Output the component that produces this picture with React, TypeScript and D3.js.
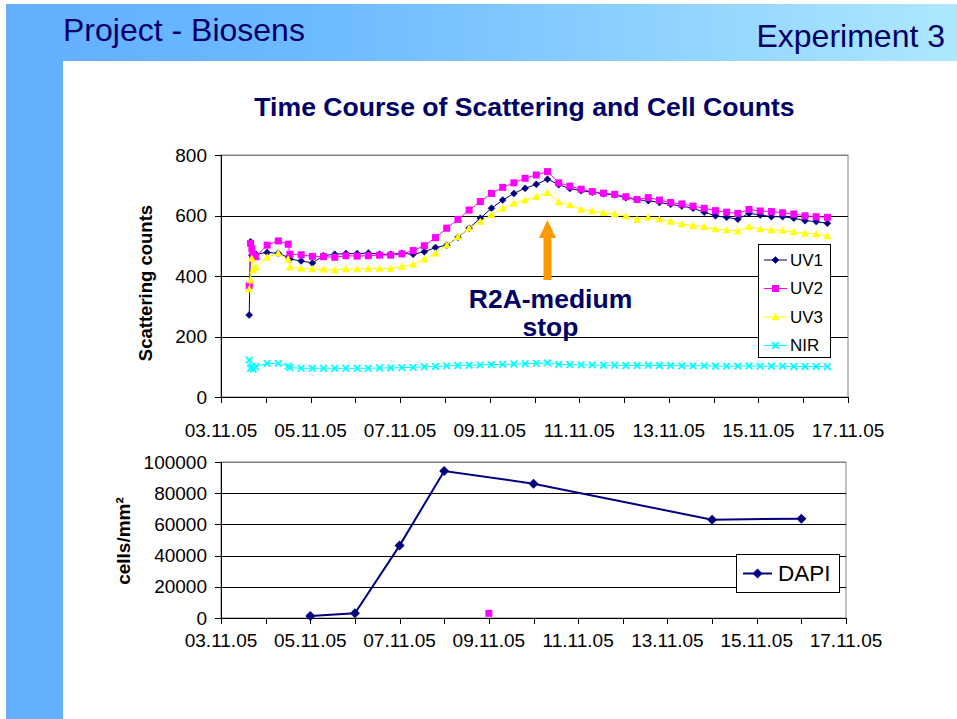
import React from 'react';
import * as d3 from 'd3';

// ---------- DATA ----------
// time in days after 03.11.05 00:00
const times = [0.63, 0.66, 0.69, 0.72, 0.78, 1.03, 1.28, 1.50, 1.54, 1.79, 2.04, 2.29, 2.54, 2.79, 3.04, 3.29, 3.54, 3.79, 4.04, 4.29, 4.54, 4.79, 5.04, 5.29, 5.54, 5.79, 6.04, 6.29, 6.54, 6.79, 7.04, 7.29, 7.54, 7.79, 8.04, 8.29, 8.54, 8.79, 9.04, 9.29, 9.54, 9.79, 10.04, 10.29, 10.54, 10.79, 11.04, 11.29, 11.54, 11.79, 12.04, 12.29, 12.54, 12.79, 13.04, 13.29, 13.54];

const uv1 = [271, 513, 469, 470, 472, 478, 475, 462,
  456, 450, 443, 467, 472, 474, 474, 476, 472, 472, 475, 472, 480, 494, 502, 528, 558, 591, 624, 651, 673, 690, 703, 720, 702, 689, 682, 677, 672, 668, 659, 652, 649, 643, 637, 631, 624, 611, 599, 594, 588, 607, 602, 596, 596, 591, 583, 580, 574];

const uv2 = [368, 508, 490, 469, 464, 502, 516, 505,
  472, 470, 465, 464, 462, 467, 466, 467, 469, 469, 473, 484, 500, 527, 558, 587, 618, 646, 673, 693, 708, 723, 734, 745, 708, 697, 687, 679, 674, 670, 662, 653, 659, 651, 643, 638, 631, 624, 616, 611, 607, 620, 615, 613, 609, 605, 599, 596, 594];

const uv3 = [357, 387, 458, 420, 428, 462, 475, 455,
  429, 425, 423, 422, 420, 423, 423, 425, 425, 425, 431, 439, 455, 475, 502, 530, 558, 580, 602, 624, 640, 651, 662, 675, 644, 635, 620, 615, 609, 605, 598, 587, 594, 588, 580, 572, 566, 563, 555, 552, 549, 563, 555, 552, 550, 546, 541, 539, 532];

const nir = [122, 95, 100, 92, 100, 111, 111, 102,
  97, 95, 95, 95, 95, 95, 95, 95, 96, 96, 97, 98, 100, 101, 103, 104, 105, 106, 107, 108, 109, 110, 111, 113, 108, 107, 106, 106, 105, 105, 104, 104, 105, 104, 104, 103, 103, 103, 102, 102, 102, 103, 102, 102, 102, 101, 101, 101, 100];

const dapiDays = [2, 3, 4, 5, 7, 11, 13];
const dapiValues = [1300, 3000, 46400, 94200, 86100, 63000, 63700];
const extraDays = [6];
const extraValues = [3000];

const dayTicks = [0, 1, 2, 3, 4, 5, 6, 7, 8, 9, 10, 11, 12, 13, 14];
const dateLabels = ['03.11.05', '05.11.05', '07.11.05', '09.11.05', '11.11.05', '13.11.05', '15.11.05', '17.11.05'];
const scatterTicks = [0, 200, 400, 600, 800];
const cellTicks = [0, 20000, 40000, 60000, 80000, 100000];

const seriesNames = ['UV1', 'UV2', 'UV3', 'NIR'];
const seriesColors = ['#000080', '#FF00FF', '#FFFF00', '#00FFFF'];
const seriesValues = [uv1, uv2, uv3, nir];

const stopDay = 7.29;
const arrowTop = 585;
const arrowHeadBase = 526;
const arrowBottom = 387;

// ---------- LAYOUT ----------
const W = 957, H = 719;
const FONT = '"Liberation Sans", Arial, sans-serif';
const NAVY = '#000066';

const xTop = d3.scaleLinear().domain([0, 14]).range([221, 848]);
const yTop = d3.scaleLinear().domain([0, 800]).range([397, 155]);
const xBot = d3.scaleLinear().domain([0, 14]).range([221, 846]);
const yBot = d3.scaleLinear().domain([0, 100000]).range([618, 462]);

function Marker({ kind, x, y, color }: { kind: number; x: number; y: number; color: string }) {
  if (kind === 0) {
    const r = 3.5;
    return <path d={`M${x},${y - r}L${x + r},${y}L${x},${y + r}L${x - r},${y}Z`} fill={color} stroke={color} strokeWidth={0.5} />;
  }
  if (kind === 1) {
    const s = 3.5;
    return <rect x={x - s} y={y - s} width={2 * s} height={2 * s} fill={color} />;
  }
  if (kind === 2) {
    const s = 4;
    return <path d={`M${x},${y - s}L${x + s},${y + s * 0.8}L${x - s},${y + s * 0.8}Z`} fill={color} />;
  }
  const s = 3.3;
  return <path d={`M${x - s},${y - s}L${x + s},${y + s}M${x + s},${y - s}L${x - s},${y + s}`} stroke={color} strokeWidth={1.8} />;
}

export default function App() {
  const topPlot = { l: xTop.range()[0], r: xTop.range()[1], t: yTop.range()[1], b: yTop.range()[0] };
  const botPlot = { l: xBot.range()[0], r: xBot.range()[1], t: yBot.range()[1], b: yBot.range()[0] };

  const line = d3.line<number>().x((_, i) => xTop(times[i])).y((d) => yTop(d));
  const dapiLine = d3.line<number>().x((_, i) => xBot(dapiDays[i])).y((d) => yBot(d));

  const ax = xTop(stopDay);
  const aTop = yTop(arrowTop), aHead = yTop(arrowHeadBase), aBot = yTop(arrowBottom);

  const legX = 758, legY = 244, legW = 72, legH = 113;

  return (
    <svg width={W} height={H} style={{ position: 'fixed', left: 0, top: 0, background: '#fff' }} fontFamily={FONT}>
      <defs>
        <linearGradient id="band" x1="0" x2="1" y1="0" y2="0">
          <stop offset="0" stopColor="#62AEFF" />
          <stop offset="0.35" stopColor="#6EBBFF" />
          <stop offset="1" stopColor="#AEE8FF" />
        </linearGradient>
      </defs>
      <rect x={0} y={0} width={W} height={H} fill="#fff" />
      <rect x={6} y={4} width={W - 6} height={57} fill="url(#band)" />
      <rect x={6} y={4} width={57} height={H - 4} fill="#64B0FF" />
      <text x={63} y={41} fontSize={32} fill={NAVY}>Project - Biosens</text>
      <text x={945} y={47} fontSize={32} fill={NAVY} textAnchor="end">Experiment 3</text>

      <text x={524.5} y={116} fontSize={26.6} fontWeight="bold" fill={NAVY} textAnchor="middle">Time Course of Scattering and Cell Counts</text>

      {/* ---------- TOP CHART ---------- */}
      <rect x={topPlot.l} y={topPlot.t} width={topPlot.r - topPlot.l} height={topPlot.b - topPlot.t} fill="#fff" stroke="#808080" strokeWidth={1} />
      {scatterTicks.filter((t) => t > 0).map((t) => (
        <line key={t} x1={topPlot.l} x2={topPlot.r} y1={Math.round(yTop(t)) + 0.5} y2={Math.round(yTop(t)) + 0.5} stroke={t === 800 ? '#808080' : '#000'} strokeWidth={1} />
      ))}
      <line x1={topPlot.l + 0.5} x2={topPlot.l + 0.5} y1={topPlot.t} y2={topPlot.b} stroke="#000" />
      <line x1={topPlot.l} x2={topPlot.r} y1={Math.round(topPlot.b) + 0.5} y2={Math.round(topPlot.b) + 0.5} stroke="#000" />
      {scatterTicks.map((t) => (
        <g key={t}>
          <line x1={topPlot.l - 6} x2={topPlot.l} y1={Math.round(yTop(t)) + 0.5} y2={Math.round(yTop(t)) + 0.5} stroke="#000" />
          <text x={207} y={yTop(t)} dy="0.35em" fontSize={19} textAnchor="end" fill="#000">{t}</text>
        </g>
      ))}
      {dayTicks.map((d) => (
        <line key={d} x1={Math.round(xTop(d)) + 0.5} x2={Math.round(xTop(d)) + 0.5} y1={topPlot.b} y2={topPlot.b + 6} stroke="#000" />
      ))}
      {dateLabels.map((lab, i) => (
        <text key={lab} x={xTop(i * 2)} y={437} fontSize={19} textAnchor="middle" fill="#000">{lab}</text>
      ))}
      <text transform={`translate(146,283) rotate(-90)`} dy="0.35em" fontSize={18.5} fontWeight="bold" textAnchor="middle" fill="#000">Scattering counts</text>

      {seriesValues.map((vals, si) => (
        <g key={si}>
          <path d={line(vals) || ''} fill="none" stroke={seriesColors[si]} strokeWidth={1} />
          {vals.map((v, i) => (
            <Marker key={i} kind={si} x={xTop(times[i])} y={yTop(v)} color={seriesColors[si]} />
          ))}
        </g>
      ))}

      {/* annotation arrow */}
      <path d={`M${ax},${aTop}L${ax + 8.5},${aHead}L${ax + 4},${aHead}L${ax + 4},${aBot}L${ax - 4},${aBot}L${ax - 4},${aHead}L${ax - 8.5},${aHead}Z`} fill="#FF9900" />
      <text x={550.5} y={307.5} fontSize={26.5} fontWeight="bold" fill={NAVY} textAnchor="middle">R2A-medium</text>
      <text x={550.5} y={336} fontSize={26.5} fontWeight="bold" fill={NAVY} textAnchor="middle">stop</text>

      {/* legend */}
      <rect x={legX + 0.5} y={legY + 0.5} width={legW} height={legH} fill="#fff" stroke="#000" />
      {seriesNames.map((n, i) => {
        const cy = legY + 16 + i * 28.5;
        return (
          <g key={n}>
            <line x1={legX + 6} x2={legX + 29} y1={cy} y2={cy} stroke={seriesColors[i]} strokeWidth={1} />
            <Marker kind={i} x={legX + 17.5} y={cy} color={seriesColors[i]} />
            <text x={legX + 32} y={cy} dy="0.35em" fontSize={17} fill="#000">{n}</text>
          </g>
        );
      })}

      {/* ---------- BOTTOM CHART ---------- */}
      <rect x={botPlot.l} y={botPlot.t} width={botPlot.r - botPlot.l} height={botPlot.b - botPlot.t} fill="#fff" stroke="#808080" strokeWidth={1} />
      {cellTicks.filter((t) => t > 0).map((t) => (
        <line key={t} x1={botPlot.l} x2={botPlot.r} y1={Math.round(yBot(t)) + 0.5} y2={Math.round(yBot(t)) + 0.5} stroke={t === 100000 ? '#808080' : '#000'} />
      ))}
      <line x1={botPlot.l + 0.5} x2={botPlot.l + 0.5} y1={botPlot.t} y2={botPlot.b} stroke="#000" />
      <line x1={botPlot.l} x2={botPlot.r} y1={Math.round(botPlot.b) + 0.5} y2={Math.round(botPlot.b) + 0.5} stroke="#000" />
      {cellTicks.map((t) => (
        <g key={t}>
          <line x1={botPlot.l - 6} x2={botPlot.l} y1={Math.round(yBot(t)) + 0.5} y2={Math.round(yBot(t)) + 0.5} stroke="#000" />
          <text x={207} y={yBot(t)} dy="0.35em" fontSize={19} textAnchor="end" fill="#000">{t}</text>
        </g>
      ))}
      {dayTicks.map((d) => (
        <line key={d} x1={Math.round(xBot(d)) + 0.5} x2={Math.round(xBot(d)) + 0.5} y1={botPlot.b} y2={botPlot.b + 6} stroke="#000" />
      ))}
      {dateLabels.map((lab, i) => (
        <text key={lab} x={xBot(i * 2)} y={647} fontSize={19} textAnchor="middle" fill="#000">{lab}</text>
      ))}
      <text transform={`translate(123,541) rotate(-90)`} dy="0.35em" fontSize={19} fontWeight="bold" textAnchor="middle" fill="#000">cells/mm²</text>

      <path d={dapiLine(dapiValues) || ''} fill="none" stroke="#000080" strokeWidth={2} />
      {dapiValues.map((v, i) => {
        const x = xBot(dapiDays[i]), y = yBot(v), r = 5;
        return <path key={i} d={`M${x},${y - r}L${x + r},${y}L${x},${y + r}L${x - r},${y}Z`} fill="#000080" />;
      })}
      {extraValues.map((v, i) => (
        <rect key={i} x={xBot(extraDays[i]) - 3.5} y={yBot(v) - 3.5} width={7} height={7} fill="#FF00FF" />
      ))}

      {/* DAPI legend */}
      <rect x={736.5} y={554.5} width={103} height={38} fill="#fff" stroke="#000" />
      <line x1={743} x2={772} y1={573.5} y2={573.5} stroke="#000080" strokeWidth={2} />
      <path d={`M757.5,568.5L762.5,573.5L757.5,578.5L752.5,573.5Z`} fill="#000080" />
      <text x={778} y={573.5} dy="0.35em" fontSize={22.5} fill="#000">DAPI</text>
    </svg>
  );
}
